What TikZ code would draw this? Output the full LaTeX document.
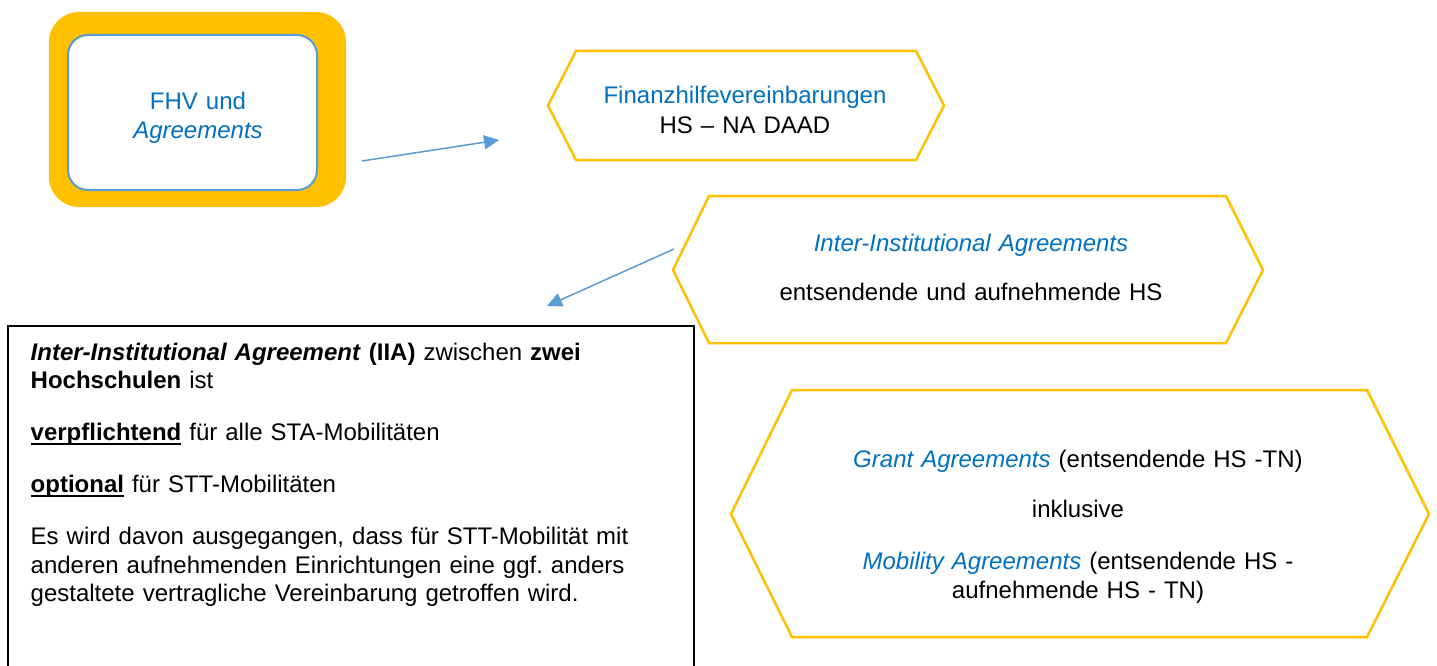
\documentclass[tikz,border=0pt]{standalone}
\usepackage{fontspec}
\setmainfont{Liberation Sans}
\usetikzlibrary{arrows.meta}
\definecolor{hexorange}{HTML}{FFC000}
\definecolor{txtblue}{HTML}{0070C0}
\definecolor{arrblue}{HTML}{5B9BD5}
\frenchspacing
\newcommand\ulbold[1]{\leavevmode\setbox0\hbox{\textbf{#1}}\rlap{\rule[-4.5pt]{\wd0}{2.2pt}}\box0\relax}
\tikzset{
  txtnode/.style={font=\fontsize{24}{28.5}\selectfont, inner sep=0pt, outer sep=0pt, align=center},
  hexline/.style={draw=hexorange, line width=2.5pt, line join=miter},
  conn/.style={draw=arrblue, line width=1.5pt, -{Triangle[length=15pt,width=14pt]}},
  iiaframe/.style={draw=black, line width=2.5pt, inner sep=0pt, outer sep=0pt},
}
\begin{document}
\begin{tikzpicture}[x=1pt,y=-1pt]
\useasboundingbox (0,0) rectangle (1437,666);
\fill[white] (0,0) rectangle (1437,666);

% FHV block
\node[fill=hexorange, rounded corners=30pt, minimum width=297pt, minimum height=195pt,
      inner sep=0pt, outer sep=0pt, anchor=north west] (fhvouter) at (49,12) {};
\node[draw=arrblue, line width=2pt, fill=white, rounded corners=20pt, minimum width=249pt,
      minimum height=155pt, inner sep=0pt, outer sep=0pt, anchor=north west] (fhvinner) at (68,35) {};
\node[txtnode, text width=240pt, anchor=base, text=txtblue] (fhv) at (198,110)
  {FHV und\\{\itshape Agreements}};

% Hexagon 1
\draw[hexline] (548,105.5) -- (576,51) -- (916,51) -- (944,105.5) -- (916,160) -- (576,160) -- cycle;
\node[txtnode, text width=360pt, anchor=base] (fin) at (745,104)
  {\textcolor{txtblue}{Finanzhilfevereinbarungen}\\[1.5pt] HS – NA DAAD};

% Hexagon 2
\draw[hexline] (673,270) -- (709,196) -- (1226,196) -- (1263,270) -- (1226,343) -- (709,343) -- cycle;
\node[txtnode, text width=540pt, anchor=base] (iiahex) at (971,251)
  {\textcolor{txtblue}{\itshape Inter-Institutional Agreements}\\[21pt] entsendende und aufnehmende HS};

% Hexagon 3
\draw[hexline] (731,514) -- (792,390) -- (1367,390) -- (1429,514) -- (1367,637) -- (792,637) -- cycle;
\node[txtnode, font=\fontsize{24}{29}\selectfont, text width=600pt, anchor=base] (grant) at (1078,467.3)
  {\textcolor{txtblue}{\itshape Grant Agreements} (entsendende HS -TN)\\[21.5pt]
   inklusive\\[22.5pt]
   \textcolor{txtblue}{\itshape Mobility Agreements} (entsendende HS -\\
   aufnehmende HS - TN)};

% IIA box
\node[iiaframe, minimum width=686pt, minimum height=360pt, anchor=north west] (iiabox) at (8,326) {};
\node[txtnode, align=left, text width=660pt, anchor=base west] (iiatext) at (30.7,360)
  {{\bfseries\itshape Inter-Institutional Agreement} \textbf{(IIA)} zwischen \textbf{zwei}\\
   \textbf{Hochschulen} ist\\[23.5pt]
   \ulbold{verpflichtend} für alle STA-Mobilitäten\\[23.5pt]
   \ulbold{optional} für STT-Mobilitäten\\[23.5pt]
   Es wird davon ausgegangen, dass für STT-Mobilität mit\\
   anderen aufnehmenden Einrichtungen eine ggf. anders\\
   gestaltete vertragliche Vereinbarung getroffen wird.};

% Connectors
\coordinate (a1s) at (362,161);
\coordinate (a1e) at (499,140);
\coordinate (a2s) at (674,249);
\coordinate (a2e) at (547,306);
\draw[conn] (a1s) -- (a1e);
\draw[conn] (a2s) -- (a2e);
\end{tikzpicture}
\end{document}
